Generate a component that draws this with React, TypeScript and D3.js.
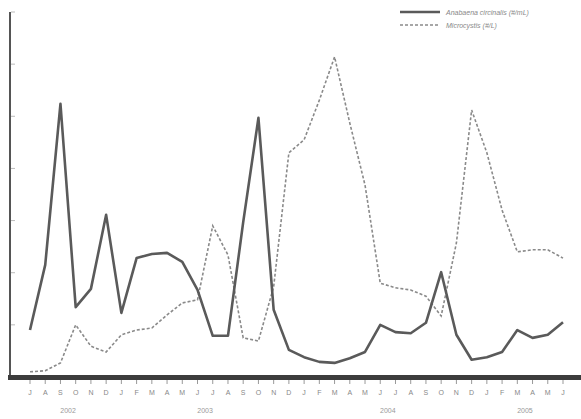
import React from "react";
import * as d3 from "d3";

const monthLabels = ["J","A","S","O","N","D","J","F","M","A","M","J","J","A","S","O","N","D","J","F","M","A","M","J","J","A","S","O","N","D","J","F","M","A","M","J"];
const years = [
  { label: "2002", start: 0, end: 5 },
  { label: "2003", start: 6, end: 17 },
  { label: "2004", start: 18, end: 29 },
  { label: "2005", start: 30, end: 35 },
];
const solidSeries = [0.90,2.15,5.24,1.34,1.69,3.11,1.23,2.28,2.36,2.38,2.21,1.67,0.79,0.79,2.97,4.97,1.29,0.52,0.38,0.29,0.27,0.36,0.48,1.00,0.86,0.84,1.04,2.01,0.81,0.33,0.38,0.48,0.90,0.75,0.81,1.05];
const dashedSeries = [0.10,0.12,0.27,1.00,0.59,0.48,0.81,0.90,0.94,1.19,1.42,1.48,2.90,2.34,0.75,0.69,1.73,4.30,4.55,5.31,6.14,4.87,3.68,1.80,1.71,1.67,1.55,1.17,2.57,5.12,4.30,3.20,2.40,2.44,2.44,2.28];
const yTicks = [1,2,3,4,5,6,7];
const legendLabels = ["Anabaena circinalis (#/mL)", "Microcystis (#/L)"];

export default function App() {
  const W = 581, H = 419;
  const x = d3.scaleLinear().domain([0, 35]).range([30, 563]);
  const y = d3.scaleLinear().domain([0, 7]).range([377, 12]);
  const line = d3.line<number>().x((_, i) => x(i)).y(d => y(d));
  return (
    <svg width={W} height={H} style={{ position: "absolute", left: 0, top: 0, background: "#fff" }}
      fontFamily="'Liberation Sans', Arial, sans-serif">
      {/* y axis */}
      <line x1={10} x2={10} y1={y(7)} y2={y(0)} stroke="#555" strokeWidth={2} />
      {yTicks.map(t => (
        <line key={t} x1={11} x2={15} y1={y(t)} y2={y(t)} stroke="#bbb" strokeWidth={1} />
      ))}
      {/* lines */}
      <path d={line(dashedSeries) || ""} fill="none" stroke="#8a8a8a" strokeWidth={1.6} strokeDasharray="3,2" />
      <path d={line(solidSeries) || ""} fill="none" stroke="#5a5a5a" strokeWidth={2.6} strokeLinejoin="round" />
      {/* x axis band */}
      <rect x={8} y={y(0) - 2} width={W - 8} height={5} fill="#3c3c3c" />
      {monthLabels.map((m, i) => (
        <g key={i}>
          <line x1={x(i)} x2={x(i)} y1={y(0) + 3} y2={y(0) + 7} stroke="#999" strokeWidth={1} />
          <text x={x(i)} y={y(0) + 18} fontSize={7} fill="#888" textAnchor="middle">{m}</text>
        </g>
      ))}
      {years.map(yr => (
        <text key={yr.label} x={x((yr.start + yr.end) / 2)} y={y(0) + 36} fontSize={7} fill="#999" textAnchor="middle">{yr.label}</text>
      ))}
      {/* legend */}
      <line x1={400} x2={440} y1={12} y2={12} stroke="#5a5a5a" strokeWidth={2.6} />
      <text x={446} y={14.5} fontSize={7} fontStyle="italic" fill="#888">{legendLabels[0]}</text>
      <line x1={400} x2={440} y1={25} y2={25} stroke="#8a8a8a" strokeWidth={1.6} strokeDasharray="3,2" />
      <text x={446} y={27.5} fontSize={7} fontStyle="italic" fill="#888">{legendLabels[1]}</text>
    </svg>
  );
}
